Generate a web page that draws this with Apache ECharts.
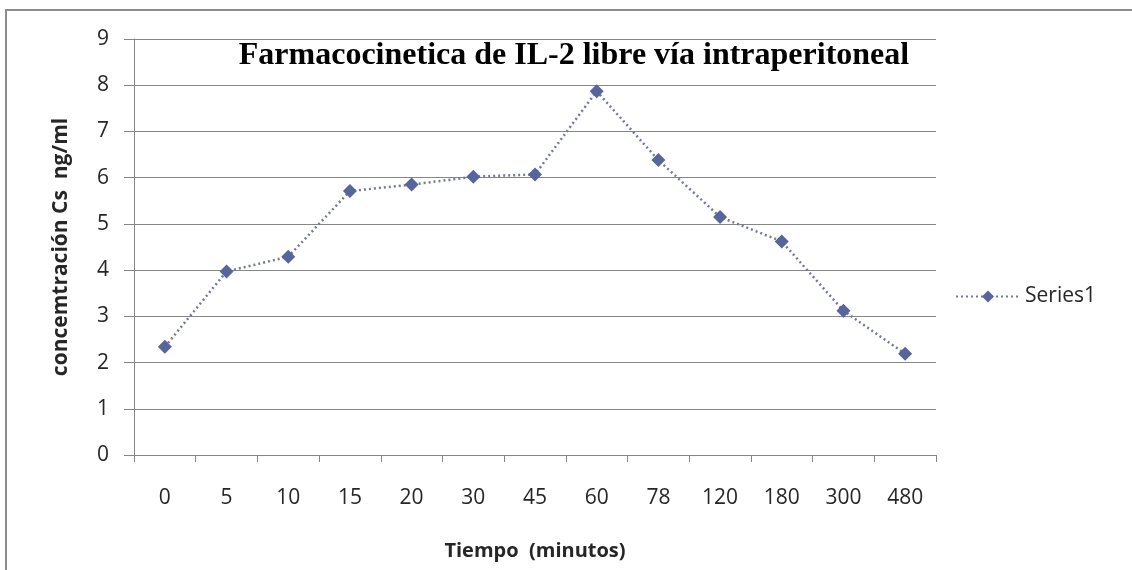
<!DOCTYPE html>
<html>
<head>
<meta charset="utf-8">
<script src="https://cdn.jsdelivr.net/npm/echarts@6/dist/echarts.min.js"></script>
<style>
  html, body {margin: 0; padding: 0; background: #fff;}
  #chart {width: 1132px; height: 570px;}
</style>
</head>
<body>
<div id="chart"></div>
<script>
// tiempo (minutos) y concentración Cs ng/ml
const tiempos = ['0', '5', '10', '15', '20', '30', '45', '60', '78', '120', '180', '300', '480'];
const concentracion = [2.34, 3.97, 4.29, 5.71, 5.85, 6.02, 6.07, 7.87, 6.38, 5.15, 4.62, 3.12, 2.19];

const chart = echarts.init(document.getElementById('chart'));
const gridColor = '#868686';
const textColor = '#262626';

const option = {
  animation: false,
  graphic: [
    {
      type: 'rect',
      shape: {x: 6, y: 10, width: 1200, height: 700},
      style: {fill: 'none', stroke: '#8c8c8c', lineWidth: 2},
      silent: true
    }
  ],
  title: {
    text: 'Farmacocinetica de IL-2 libre vía intraperitoneal',
    left: 569,
    textAlign: 'center',
    top: 35,
    textStyle: {
      fontFamily: 'Liberation Serif',
      fontWeight: 'bold',
      fontSize: 32,
      color: '#000'
    }
  },
  legend: {
    data: ['Series1'],
    left: 950,
    top: 281,
    itemWidth: 64,
    itemHeight: 15,
    itemGap: 12,
    textStyle: {fontFamily: 'Open Sans', fontSize: 21, color: textColor}
  },
  grid: {left: 134, right: 196, top: 39, bottom: 115},
  xAxis: {
    type: 'category',
    data: tiempos,
    boundaryGap: true,
    name: 'Tiempo  (minutos)',
    nameLocation: 'middle',
    nameGap: 86,
    nameTextStyle: {fontFamily: 'Open Sans', fontWeight: 'bold', fontSize: 20, color: textColor},
    axisLine: {lineStyle: {color: gridColor, width: 1}},
    axisTick: {show: true, length: 7, lineStyle: {color: gridColor}},
    axisLabel: {margin: 33, fontFamily: 'Open Sans', fontSize: 21, color: textColor}
  },
  yAxis: {
    type: 'value',
    min: 0,
    max: 9,
    interval: 1,
    name: 'concemtración Cs  ng/ml',
    nameLocation: 'middle',
    nameGap: 62,
    nameTextStyle: {fontFamily: 'Open Sans', fontWeight: 'bold', fontSize: 21, color: textColor},
    axisLine: {show: true, lineStyle: {color: gridColor, width: 1}},
    axisTick: {show: true, length: 10, lineStyle: {color: gridColor}},
    axisLabel: {margin: 25, fontFamily: 'Open Sans', fontSize: 21, color: textColor},
    splitLine: {lineStyle: {color: gridColor, width: 1}}
  },
  series: [
    {
      name: 'Series1',
      type: 'line',
      data: concentracion,
      symbol: 'diamond',
      symbolSize: 14,
      itemStyle: {color: '#56659c'},
      lineStyle: {color: '#737b93', width: 2.5, type: [2, 3]}
    }
  ]
};
chart.setOption(option);
</script>
</body>
</html>
